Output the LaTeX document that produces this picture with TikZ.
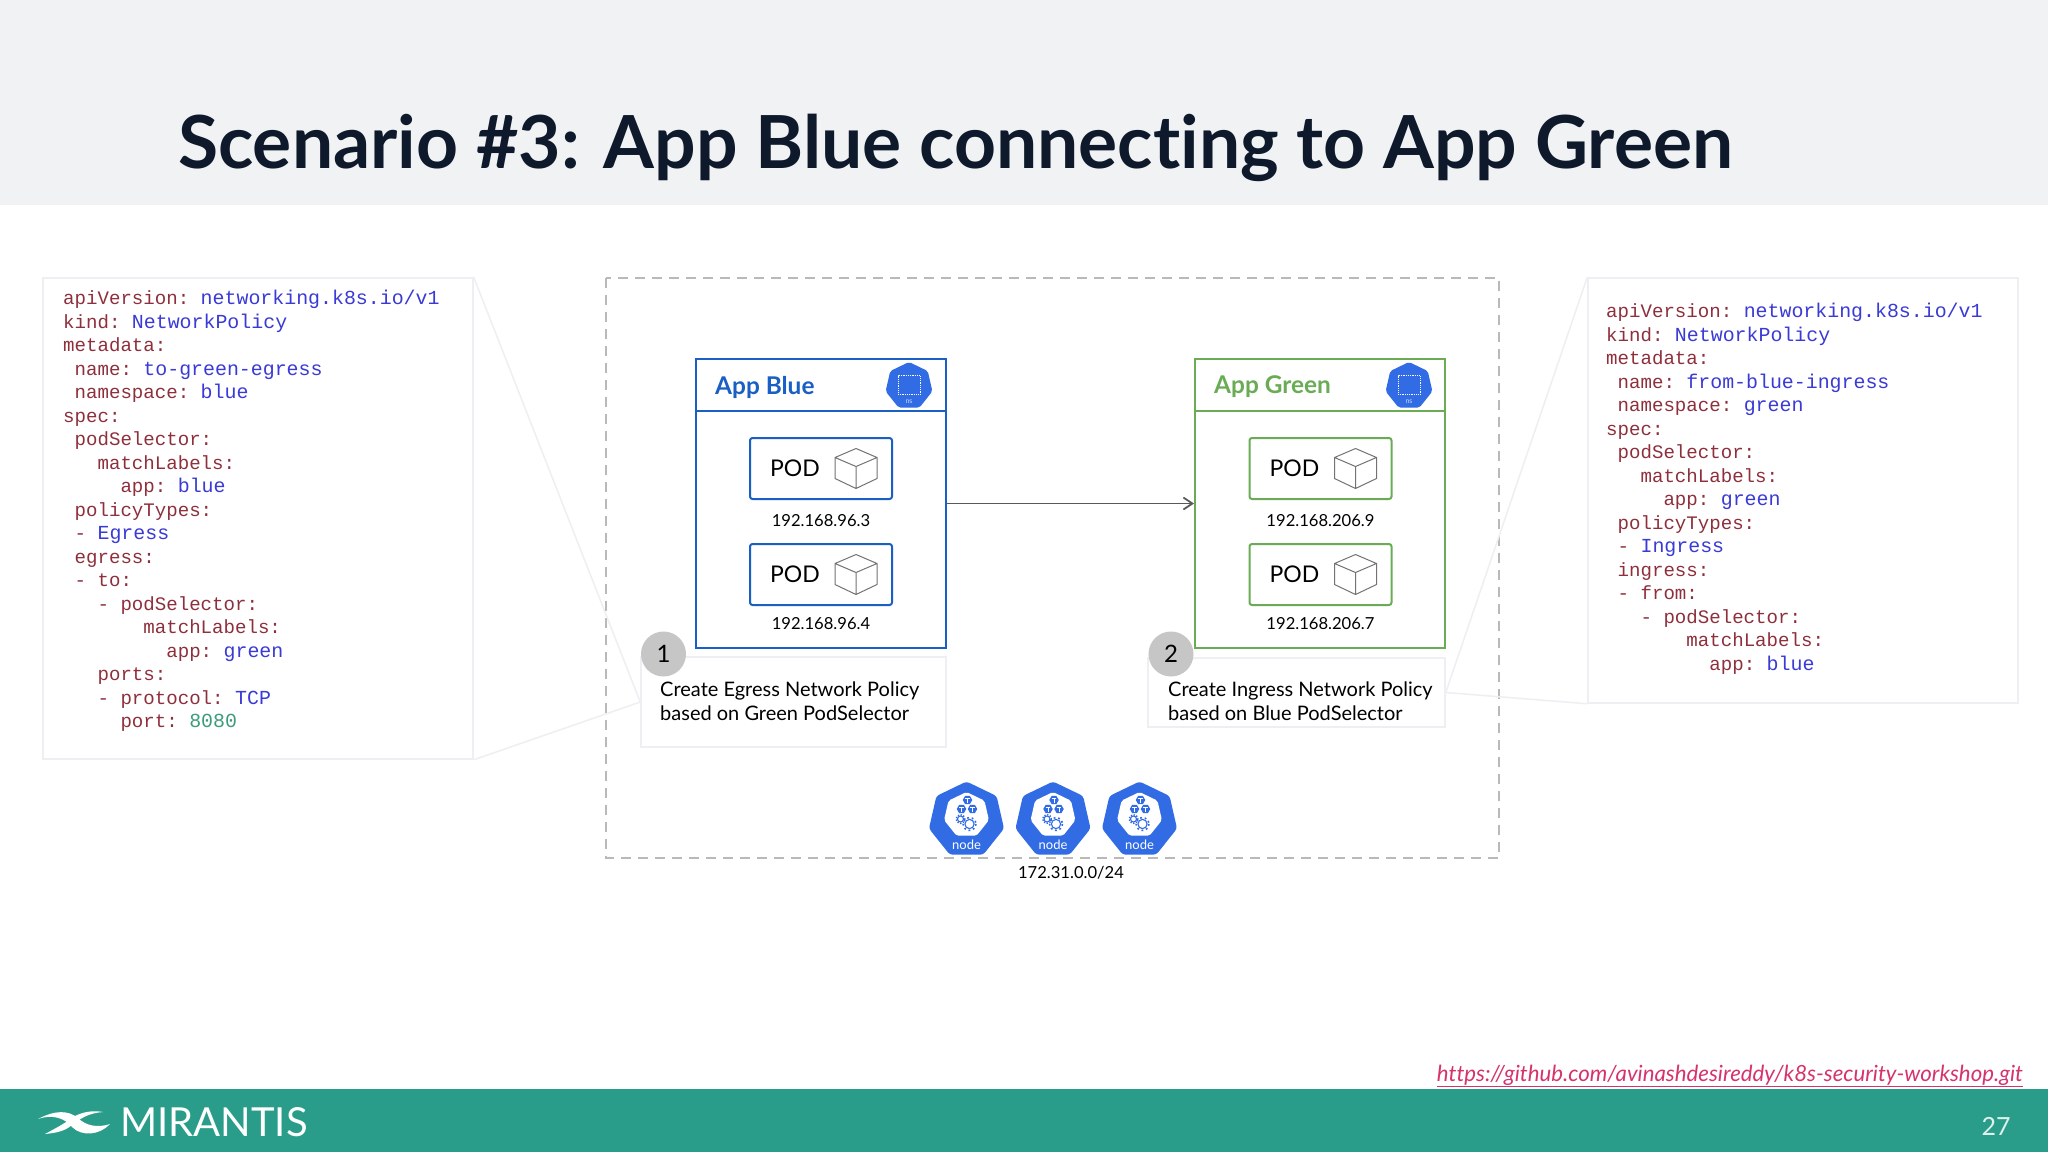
\documentclass[tikz,border=0pt]{standalone}
\usepackage{fontspec}
\setmainfont{Lato}[Ligatures=NoCommon]
\newfontfamily\yamlfont{Liberation Mono}
\usetikzlibrary{arrows.meta,positioning,shapes.geometric}
\definecolor{headgray}{HTML}{F1F2F4}
\definecolor{footgreen}{HTML}{2A9D8A}
\definecolor{titleink}{HTML}{0E1A2B}
\definecolor{appblue}{HTML}{1A5FC4}
\definecolor{appgreen}{HTML}{6AAB55}
\definecolor{k8sblue}{HTML}{326CE5}
\definecolor{paleline}{HTML}{EFEFF3}
\definecolor{keyred}{HTML}{8E2F3C}
\definecolor{valblue}{HTML}{3A3AD6}
\definecolor{numgreen}{HTML}{3C9C7C}
\definecolor{urlpink}{HTML}{D6336C}
\newcommand{\ykey}[1]{\textcolor{keyred}{#1}}
\newcommand{\yval}[1]{\textcolor{valblue}{\fontsize{19.9}{23.5}\selectfont #1}}
\newcommand{\ynum}[1]{\textcolor{numgreen}{\fontsize{19.9}{23.5}\selectfont #1}}
\newcommand{\fsz}[1]{\fontsize{#1}{#1}\selectfont}
\tikzset{
  pod cube/.pic={
    \draw[gray!90!black,line width=1pt,line join=round]
      (0,-20) -- (21,-11) -- (21,10) -- (0,20) -- (-21,10) -- (-21,-11) -- cycle
      (-21,-11) -- (0,-2) -- (21,-11) (0,-2) -- (0,20);
  },
  k8s node/.pic={
    \node[regular polygon,regular polygon sides=7,fill=k8sblue,minimum size=77pt,inner sep=0pt,rounded corners=3pt] (-hept) at (0,0) {};
    \node[regular polygon,regular polygon sides=7,fill=white,minimum size=46pt,inner sep=0pt,rounded corners=2pt] (-core) at (0,-5) {};
    \node[small cube] (-c1) at (1,-20) {};
    \node[small cube] (-c2) at (-5,-11) {};
    \node[small cube] (-c3) at (6,-11) {};
    \draw[k8sblue,line width=1.1pt] (-6,-1) circle (3);
    \draw[k8sblue,line width=1.4pt,dash pattern=on 1.3pt off 1.6pt] (-6,-1) circle (4.4);
    \draw[k8sblue,line width=1.1pt] (3,4) circle (4.6);
    \draw[k8sblue,line width=1.6pt,dash pattern=on 1.8pt off 2.8pt] (3,4) circle (6.4);
    \node[text=white,font=\fsz{13},inner sep=0pt] (-lab) at (0,25) {node};
  },
  ns badge/.pic={
    \node[regular polygon,regular polygon sides=7,fill=k8sblue,minimum size=48pt,inner sep=0pt,rounded corners=2pt] (-hept) at (0,0) {};
    \node[draw=white,densely dotted,line width=.8pt,minimum width=22pt,minimum height=19pt,inner sep=0pt] (-sq) at (0,-1) {};
    \node[text=white!75!k8sblue,font=\fsz{7},inner sep=0pt] (-lab) at (0,16) {ns};
  }
}
\begin{document}
\begin{tikzpicture}[x=1pt,y=-1pt,
  small cube/.style={regular polygon,regular polygon sides=6,fill=k8sblue,minimum size=9.5pt,inner sep=0pt,
    path picture={\draw[white,line width=.5pt] ([yshift=1.8pt]path picture bounding box.center) -- ([yshift=-3pt]path picture bounding box.center)
      ([xshift=-2.4pt,yshift=1.8pt]path picture bounding box.center) -- ([xshift=2.4pt,yshift=1.8pt]path picture bounding box.center);}},
  yaml box/.style={draw=paleline,fill=white,line width=1.5pt,inner sep=0pt},
  yaml text/.style={anchor=north west,align=left,inner sep=0pt,font=\yamlfont\frenchspacing\fontsize{19.1}{23.5}\selectfont},
  app box/.style={line width=2pt,minimum width=250pt,minimum height=289pt,inner sep=0pt},
  app title/.style={anchor=west,inner sep=0pt,font=\bfseries\fsz{24.4}},
  pod/.style={draw,line width=2pt,rounded corners=2.5pt,minimum height=61pt,text width=102pt,inner xsep=20pt,inner ysep=0pt,font=\fsz{23}},
  ip/.style={inner sep=0pt,font=\fsz{16.6}},
  note box/.style={draw=paleline,fill=white,line width=1.5pt,inner sep=0pt},
  note text/.style={anchor=north west,align=left,inner sep=0pt,font=\fontsize{20}{23.5}\selectfont},
  step mark/.style={circle,fill=gray!45,minimum size=45pt,inner sep=0pt,font=\fsz{24}},
  pale/.style={draw=paleline,line width=1.5pt}]

  \useasboundingbox (0,0) rectangle (2048,1152);
  \fill[white] (0,0) rectangle (2048,1152);
  \fill[headgray] (0,0) rectangle (2048,205);
  \fill[footgreen] (0,1089) rectangle (2048,1152);

  \node[anchor=base west,inner sep=0pt,text=titleink,font=\bfseries\fsz{73.2}] (title) at (178,168)
    {Scenario \#3: App Blue connecting to App Green};

  \draw[gray!55,line width=2pt,dash pattern=on 10pt off 7pt] (606,278) rectangle (1499,858);

  \node[yaml box,minimum width=430pt,minimum height=481pt] (leftyaml) at (258,518.5) {};
  \node[yaml box,minimum width=430pt,minimum height=425pt] (rightyaml) at (1803,490.5) {};
  \node[note box,minimum width=305pt,minimum height=90pt] (note1) at (793.5,702) {};
  \node[note box,minimum width=297pt,minimum height=69pt] (note2) at (1296.5,692.5) {};

  \path[pale]
    (leftyaml.north east) edge (note1.west)
    (leftyaml.south east) edge (note1.west)
    (rightyaml.north west) edge (note2.east)
    (rightyaml.south west) edge (note2.east);

  \node[yaml text] (lefttext) at (63,290) {%
    \ykey{apiVersion:} \yval{networking.k8s.io/v1}\\
    \ykey{kind:} \yval{NetworkPolicy}\\
    \ykey{metadata:}\\
    ~\ykey{name:} \yval{to-green-egress}\\
    ~\ykey{namespace:} \yval{blue}\\
    \ykey{spec:}\\
    ~\ykey{podSelector:}\\
    ~~~\ykey{matchLabels:}\\
    ~~~~~\ykey{app:} \yval{blue}\\
    ~\ykey{policyTypes:}\\
    ~\ykey{-} \yval{Egress}\\
    ~\ykey{egress:}\\
    ~\ykey{- to:}\\
    ~~~\ykey{- podSelector:}\\
    ~~~~~~~\ykey{matchLabels:}\\
    ~~~~~~~~~\ykey{app:} \yval{green}\\
    ~~~\ykey{ports:}\\
    ~~~\ykey{- protocol:} \yval{TCP}\\
    ~~~~~\ykey{port:} \ynum{8080}};

  \node[yaml text] (righttext) at (1606,303) {%
    \ykey{apiVersion:} \yval{networking.k8s.io/v1}\\
    \ykey{kind:} \yval{NetworkPolicy}\\
    \ykey{metadata:}\\
    ~\ykey{name:} \yval{from-blue-ingress}\\
    ~\ykey{namespace:} \yval{green}\\
    \ykey{spec:}\\
    ~\ykey{podSelector:}\\
    ~~~\ykey{matchLabels:}\\
    ~~~~~\ykey{app:} \yval{green}\\
    ~\ykey{policyTypes:}\\
    ~\ykey{-} \yval{Ingress}\\
    ~\ykey{ingress:}\\
    ~\ykey{- from:}\\
    ~~~\ykey{- podSelector:}\\
    ~~~~~~~\ykey{matchLabels:}\\
    ~~~~~~~~~\ykey{app:} \yval{blue}};

  \node[app box,draw=appblue] (blue) at (821,503.5) {};
  \node[app box,draw=appgreen] (green) at (1320,503.5) {};
  \draw[appblue,line width=2pt] ([yshift=-53pt]blue.north west) -- ([yshift=-53pt]blue.north east);
  \draw[appgreen,line width=2pt] ([yshift=-53pt]green.north west) -- ([yshift=-53pt]green.north east);

  \path[draw=black!65,line width=1.8pt,-{Straight Barb[length=9pt,width=12pt]}] (blue) edge (green);

  \node[app title,text=appblue] (bluetitle) at (715,387) {App Blue};
  \node[app title,text=appgreen] (greentitle) at (1214,387) {App Green};
  \pic (bluens) at (909,386) {ns badge};
  \pic (greenns) at (1409,386) {ns badge};

  \node[pod,draw=appblue] (pod1) at (821,468.5) {POD};
  \node[ip,below=14pt of pod1] (ip1) {192.168.96.3};
  \node[pod,draw=appblue,below=43pt of pod1] (pod2) {POD};
  \node[ip,below=11pt of pod2] (ip2) {192.168.96.4};
  \node[pod,draw=appgreen] (pod3) at (1320.5,468.5) {POD};
  \node[ip,below=14pt of pod3] (ip3) {192.168.206.9};
  \node[pod,draw=appgreen,below=43pt of pod3] (pod4) {POD};
  \node[ip,below=11pt of pod4] (ip4) {192.168.206.7};

  \pic at ([xshift=35pt]pod1.center) {pod cube};
  \pic at ([xshift=35pt]pod2.center) {pod cube};
  \pic at ([xshift=35pt]pod3.center) {pod cube};
  \pic at ([xshift=35pt]pod4.center) {pod cube};

  \node[note text] (notetext1) at (660,682) {Create Egress Network Policy\\based on Green PodSelector};
  \node[note text] (notetext2) at (1168,682) {Create Ingress Network Policy\\based on Blue PodSelector};
  \node[step mark] (mark1) at (663.5,654) {1};
  \node[step mark] (mark2) at (1171,654) {2};

  \pic (node1) at (966.5,820) {k8s node};
  \pic (node2) at (1053,820) {k8s node};
  \pic (node3) at (1139.5,820) {k8s node};
  \node[ip] (cidr) at (1071,873) {172.31.0.0/24};

  \node[anchor=base east,inner sep=0pt,text=urlpink,font=\itshape\fsz{22.25}] (url) at (2023,1081)
    {\underline{https://github.com/avinashdesireddy/k8s-security-workshop.git}};
  \fill[white] (38,1119) .. controls (55,1110) and (68,1110) .. (78,1118)
    .. controls (86,1126) and (98,1128) .. (110,1124)
    .. controls (100,1135) and (82,1137) .. (72,1127)
    .. controls (65,1118) and (52,1114) .. (38,1119) -- cycle;
  \fill[white] (103,1112) .. controls (88,1113) and (80,1119) .. (72,1125)
    .. controls (64,1132) and (54,1133) .. (45,1134)
    .. controls (56,1128) and (64,1124) .. (70,1119)
    .. controls (80,1112) and (92,1110) .. (103,1112) -- cycle;
  \node[anchor=west,inner sep=0pt,text=white,font=\fsz{40}] (brand) at (120,1122) {MIRANTIS};
  \node[inner sep=0pt,text=white!85!footgreen,font=\fsz{25}] (pageno) at (1996,1126) {27};
\end{tikzpicture}
\end{document}
